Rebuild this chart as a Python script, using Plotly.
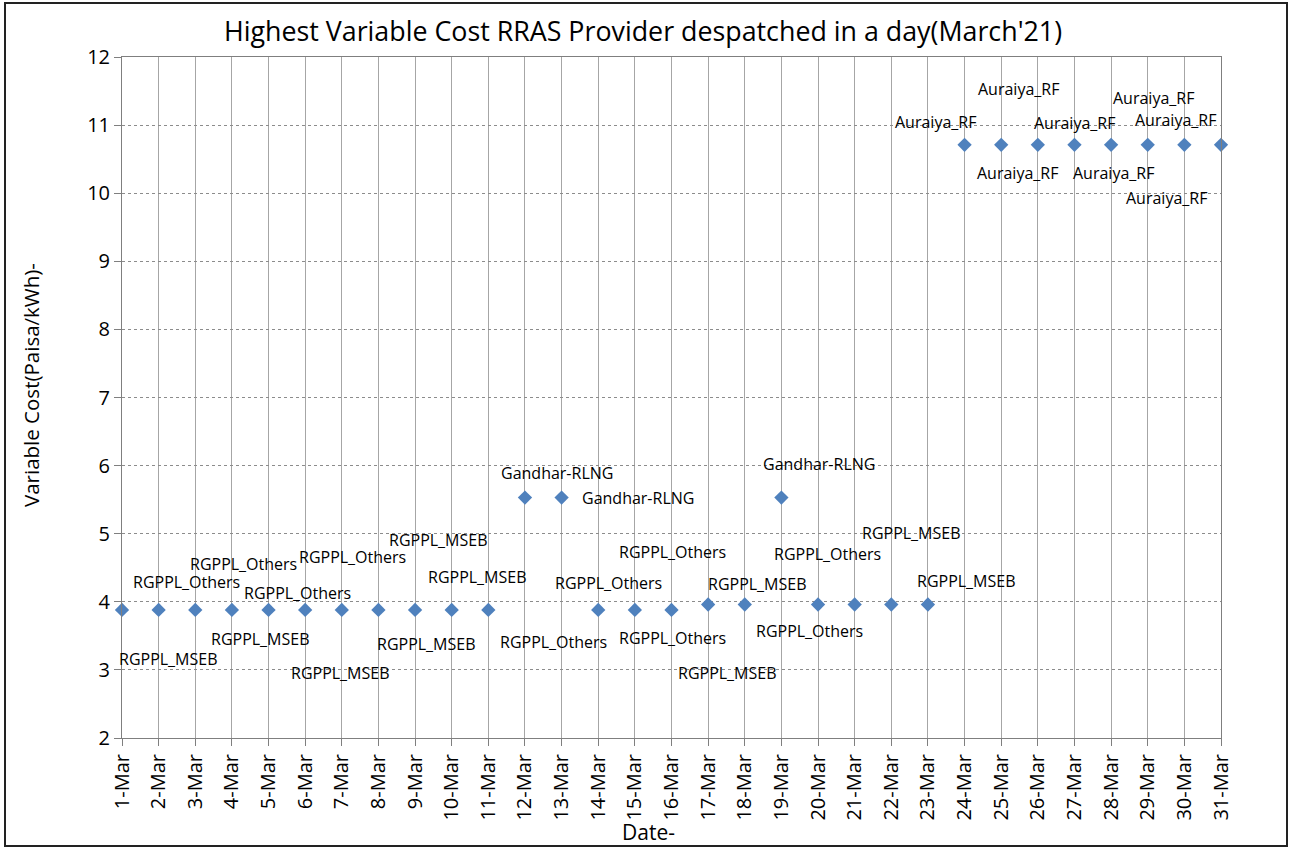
import plotly.graph_objects as go

dates = [f"{d}-Mar" for d in range(1, 32)]
costs = [3.88]*11 + [5.53, 5.53] + [3.88]*3 + [3.96, 3.96] + [5.53] + [3.96]*4 + [10.71]*8
providers = [
    "RGPPL_MSEB", "RGPPL_Others", "RGPPL_Others", "RGPPL_MSEB", "RGPPL_Others",
    "RGPPL_MSEB", "RGPPL_Others", "RGPPL_MSEB", "RGPPL_MSEB", "RGPPL_MSEB",
    "RGPPL_Others", "Gandhar-RLNG", "Gandhar-RLNG", "RGPPL_Others", "RGPPL_Others",
    "RGPPL_Others", "RGPPL_MSEB", "RGPPL_MSEB", "Gandhar-RLNG", "RGPPL_Others",
    "RGPPL_Others", "RGPPL_MSEB", "RGPPL_MSEB", "Auraiya_RF", "Auraiya_RF",
    "Auraiya_RF", "Auraiya_RF", "Auraiya_RF", "Auraiya_RF", "Auraiya_RF", "Auraiya_RF",
]
y_ticks = list(range(2, 13))

# label pixel offsets (dx, dy) relative to each marker (layout only)
label_offsets = [
    (46, -49), (28, 28), (48, 46), (29, -29), (29, 17),
    (35, -63), (11, 53), (48, -34), (23, 70), (26, 33),
    (65, -32), (32, 25), (76, 0), (10, 27), (38, 58),
    (1, -28), (19, -68), (13, 21), (38, 34), (-9, -26),
    (-27, 51), (20, 72), (39, 24), (-29, 23), (17, 56),
    (-20, -28), (0, 22), (2, -28), (6, 47), (-18, -53), (-46, 25),
]

FONT = "Open Sans"

fig = go.Figure()
fig.add_trace(go.Scatter(
    x=dates, y=costs, mode="markers",
    marker=dict(symbol="diamond", size=11, color="#4F81BD"),
    cliponaxis=False, showlegend=False,
))

for d, c, p, (dx, dy) in zip(dates, costs, providers, label_offsets):
    fig.add_annotation(x=d, y=c, text=p, showarrow=False, xshift=dx, yshift=dy,
                       font=dict(family=FONT, size=16, color="#000"))

L, R, T, B = 122, 71, 57, 111
W, H = 1292, 849
pw, ph = W - L - R, H - T - B

fig.add_annotation(text="Date-", xref="paper", yref="paper",
                   x=(648 - L) / pw, y=(H - B - 832) / ph,
                   showarrow=False, xanchor="center", yanchor="middle",
                   font=dict(family=FONT, size=21, color="#000"))
fig.add_annotation(text="Variable Cost(Paisa/kWh)-", xref="paper", yref="paper",
                   x=(31 - L) / pw, y=(H - B - 385) / ph, textangle=-90,
                   showarrow=False, xanchor="center", yanchor="middle",
                   font=dict(family=FONT, size=20.5, color="#000"))

fig.add_shape(type="rect", xref="paper", yref="paper",
              x0=(5 - L) / pw, x1=(1287 - L) / pw,
              y0=(H - B - 846) / ph, y1=(H - B - 3) / ph,
              line=dict(color="#222", width=2), fillcolor="rgba(0,0,0,0)", layer="below")

fig.update_layout(
    width=W, height=H,
    margin=dict(l=L, r=R, t=T, b=B),
    paper_bgcolor="white", plot_bgcolor="white",
    title=dict(text="Highest Variable Cost RRAS Provider despatched in a day(March'21)",
               x=(643 - L) / pw, xref="paper", xanchor="center",
               y=1 - 32 / H, yanchor="middle",
               font=dict(family=FONT, size=26.8, color="#000")),
    font=dict(family=FONT, color="#000"),
    xaxis=dict(
        type="category", range=[0, 30], tickangle=-90,
        showgrid=True, gridcolor="#a6a6a6", gridwidth=1,
        showline=True, linecolor="#7f7f7f", linewidth=1, mirror=True,
        ticks="outside", ticklen=7, tickcolor="#7f7f7f",
        tickfont=dict(family=FONT, size=20, color="#000"),
    ),
    yaxis=dict(
        range=[2, 12], tickvals=y_ticks, ticktext=[str(v) for v in y_ticks],
        showgrid=True, gridcolor="#8c8c8c", griddash="dot", gridwidth=1,
        showline=True, linecolor="#7f7f7f", linewidth=1, mirror=True,
        ticks="outside", ticklen=7, tickcolor="#7f7f7f",
        tickfont=dict(family=FONT, size=20, color="#000"),
        zeroline=False,
    ),
)

fig.write_html("out.html", config={"displayModeBar": False},
               post_script="document.body.style.margin='0px';")
